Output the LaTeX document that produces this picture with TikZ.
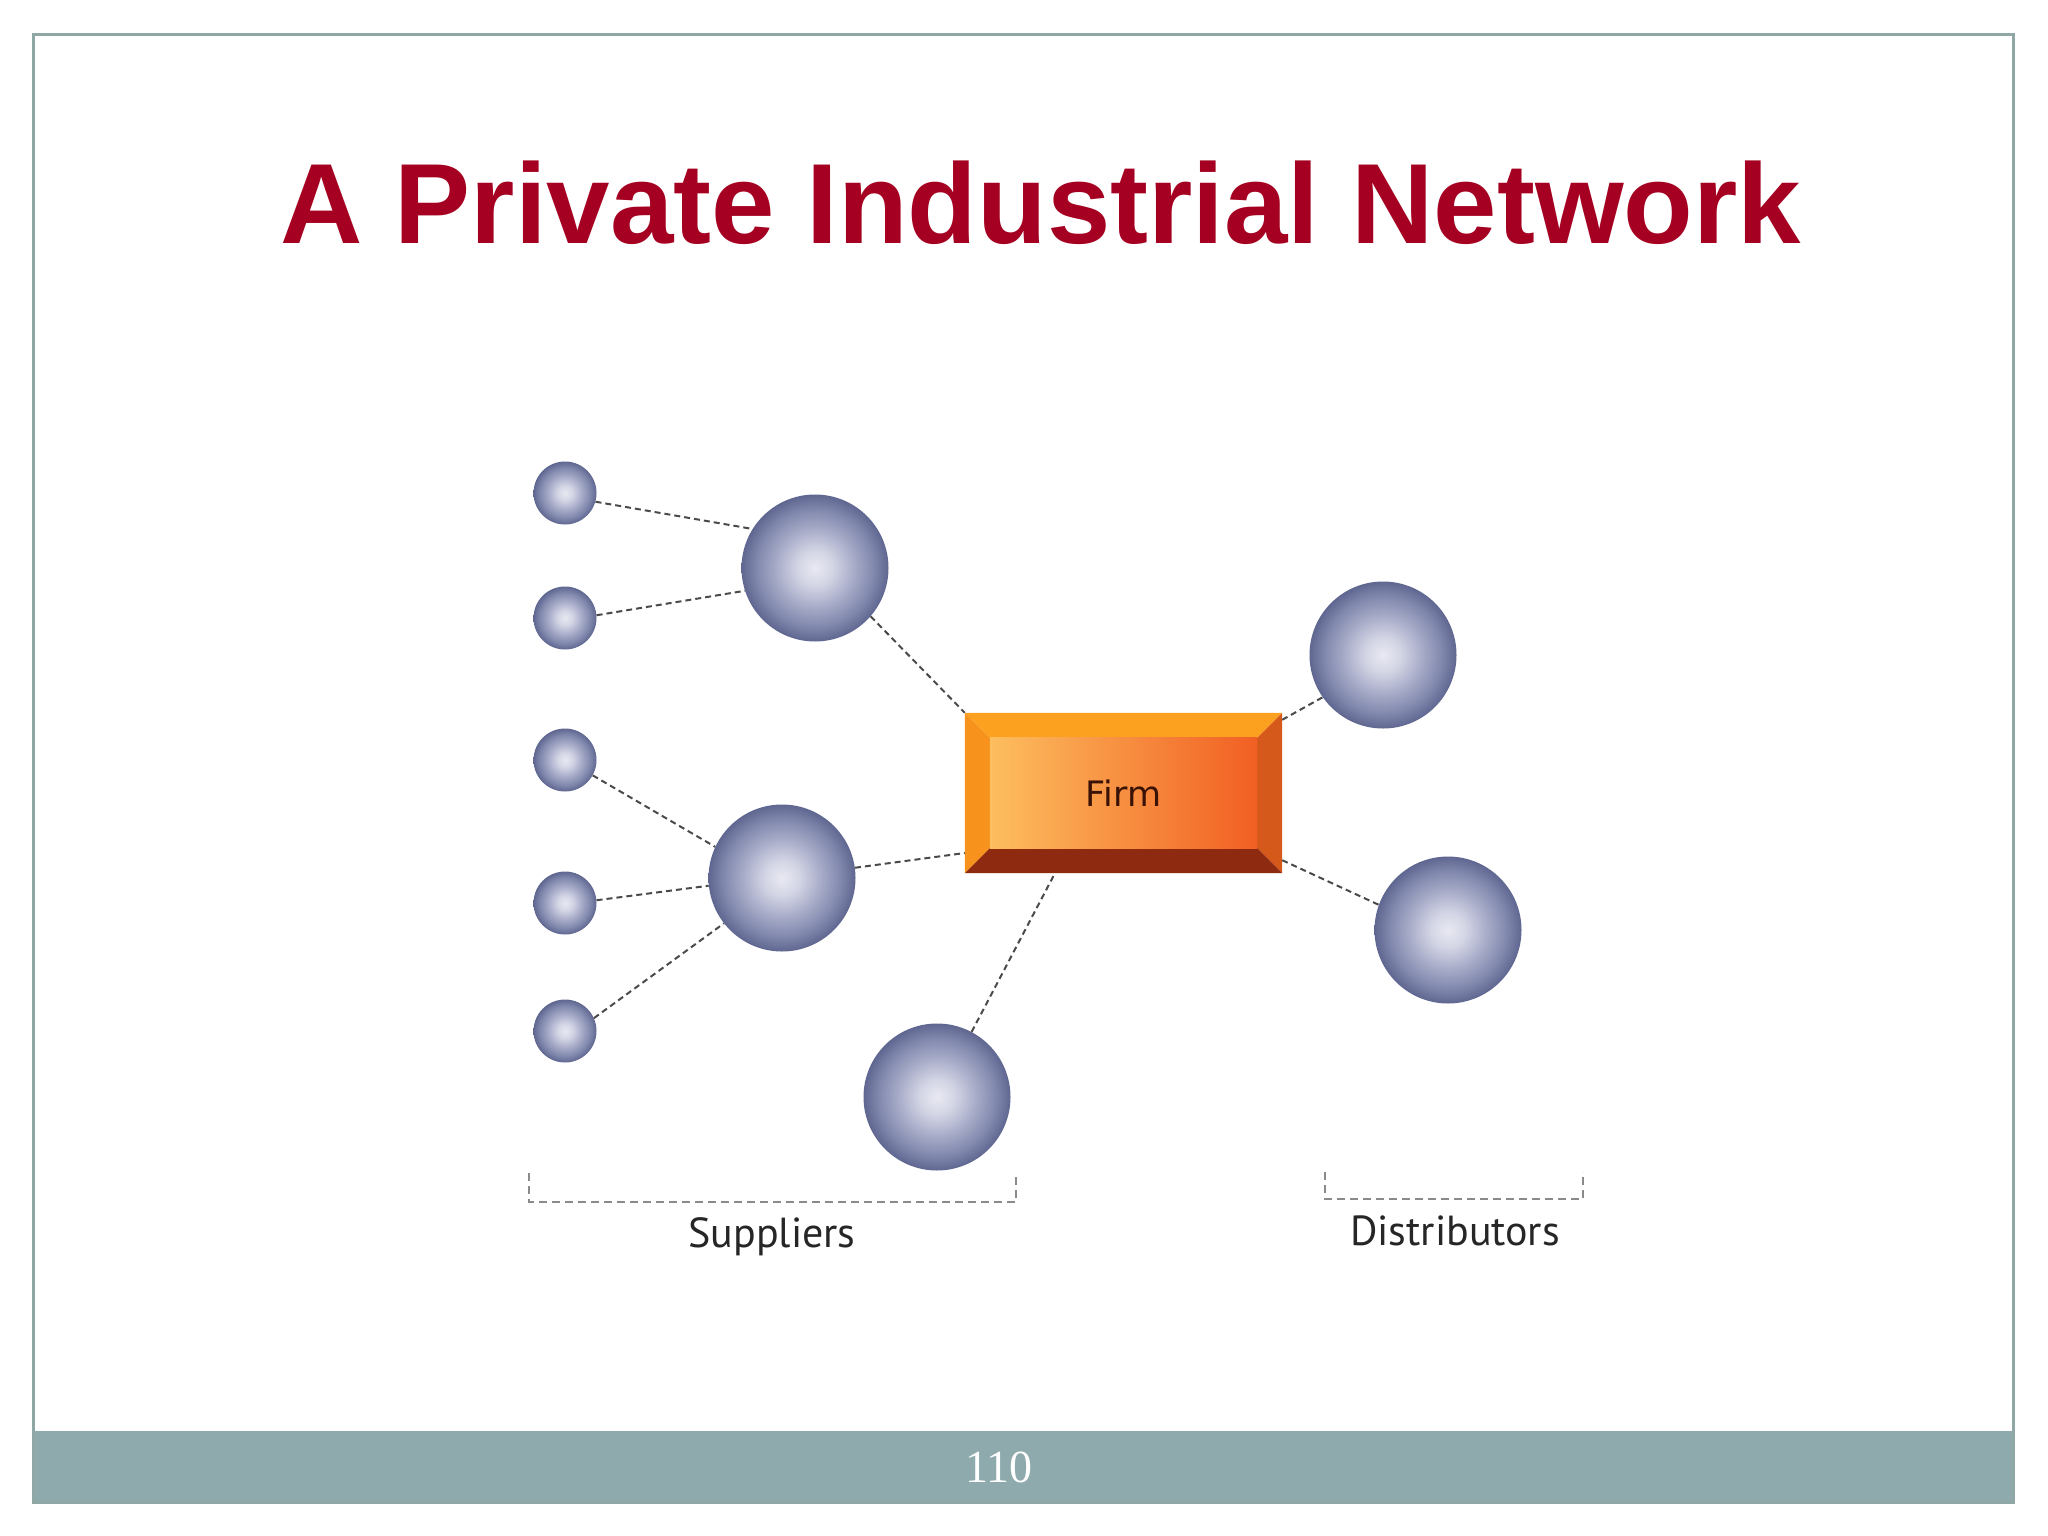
\documentclass[tikz,border=0pt]{standalone}
\usepackage{fontspec}
\usetikzlibrary{calc}
\newfontfamily\titlefont{Liberation Sans}
\newfontfamily\labfont{PT Sans}
\newfontfamily\firmfont{DejaVu Sans}
\newfontfamily\pagefont{Liberation Serif}
\definecolor{titleRed}{HTML}{A50021}
\definecolor{frameCol}{HTML}{8FA8A6}
\definecolor{footCol}{HTML}{8EAAAC}
\definecolor{lineGray}{HTML}{4A4A4A}
\definecolor{brackGray}{HTML}{8A8A8A}
\definecolor{sphA}{HTML}{E8E9F1}
\definecolor{sphB}{HTML}{D3D5E5}
\definecolor{sphC}{HTML}{A9ADC9}
\definecolor{sphD}{HTML}{8088AD}
\definecolor{sphE}{HTML}{5F6791}
\definecolor{bevTop}{HTML}{FBA11F}
\definecolor{bevLeft}{HTML}{F7931D}
\definecolor{bevRight}{HTML}{D5591A}
\definecolor{bevBottom}{HTML}{8E2A10}
\definecolor{faceL}{HTML}{FDBE5F}
\definecolor{faceM}{HTML}{F8953A}
\definecolor{faceR}{HTML}{F15F22}
\definecolor{firmText}{HTML}{3A1206}
\pgfdeclarelayer{bg}
\pgfsetlayers{bg,main}
\pgfdeclareradialshading{sphere}{\pgfpoint{0bp}{0bp}}{color(0bp)=(sphA); color(6bp)=(sphB); color(13bp)=(sphC); color(20bp)=(sphD); color(25bp)=(sphE); color(50bp)=(sphE)}
\tikzset{
  ballnode/.style={circle, inner sep=0pt, shade, shading=sphere},
  smallball/.style={ballnode, minimum size=63pt},
  bigball/.style={ballnode, minimum size=147pt},
  conn/.style={draw=lineGray, line width=2pt, dash pattern=on 6pt off 4pt},
  bracket/.style={draw=brackGray, line width=2pt, dash pattern=on 8pt off 5pt},
  labeltext/.style={font=\labfont\fontsize{42}{46}\selectfont, text=black!85, anchor=base}
}
\begin{document}
\begin{tikzpicture}[x=1pt,y=-1pt]
\useasboundingbox (0,0) rectangle (2048,1536);
\begin{pgfonlayer}{bg}
  \fill[white] (0,0) rectangle (2048,1536);
  \fill[footCol] (33,1431) rectangle (2013,1502);
  \draw[frameCol, line width=3pt] (33,35) rectangle (2013,1502);
\end{pgfonlayer}

% title
\node[anchor=base, text=titleRed, font=\titlefont\bfseries\fontsize{114}{120}\selectfont] (title) at (1041,243) {A Private Industrial Network};

% suppliers
\node[smallball] (s1) at (565,493) {};
\node[smallball] (s2) at (565,618) {};
\node[smallball] (s3) at (565,760) {};
\node[smallball] (s4) at (565,903) {};
\node[smallball] (s5) at (565,1031) {};
\node[bigball] (b1) at (815,568) {};
\node[bigball] (b2) at (782,878) {};
\node[bigball] (b3) at (937,1097) {};
% distributors
\node[bigball] (d1) at (1383,655) {};
\node[bigball] (d2) at (1448,930) {};

% firm
\node[minimum width=317pt, minimum height=160pt, inner sep=0pt, text=firmText, font=\firmfont\fontsize{35}{40}\selectfont] (firm) at (1123.5,793) {Firm};
\coordinate (fiNW) at ([xshift=25pt,yshift=-25pt]firm.north west);
\coordinate (fiNE) at ([xshift=-25pt,yshift=-25pt]firm.north east);
\coordinate (fiSW) at ([xshift=25pt,yshift=25pt]firm.south west);
\coordinate (fiSE) at ([xshift=-25pt,yshift=25pt]firm.south east);
\begin{pgfonlayer}{bg}
  \fill[bevTop] (firm.north west) -- (firm.north east) -- (fiNE) -- (fiNW) -- cycle;
  \fill[bevLeft] (firm.north west) -- (fiNW) -- (fiSW) -- (firm.south west) -- cycle;
  \fill[bevRight] (firm.north east) -- (firm.south east) -- (fiSE) -- (fiNE) -- cycle;
  \fill[bevBottom] (firm.south west) -- (fiSW) -- (fiSE) -- (firm.south east) -- cycle;
  \shade[left color=faceL, middle color=faceM, right color=faceR] (fiNW) rectangle (fiSE);
\end{pgfonlayer}

% connectors
\draw[conn] (s1.-16) -- (b1.148);
\draw[conn] (s2.5) -- (b1.-162);
\draw[conn] (b1.-41) -- (firm.north west);
\draw[conn] (s3.-29) -- (b2.155);
\draw[conn] (s4.5) -- (b2.186);
\draw[conn] (s5.24) -- (b2.-142);
\draw[conn] (b2.8) -- ([yshift=-60pt]firm.west);
\draw[conn] (b3.62) -- ($(firm.south west)!0.284!(firm.south east)$);
\draw[conn] ([yshift=-7pt]firm.north east) -- (d1.-145);
\draw[conn] ([yshift=13pt]firm.south east) -- (d2.160);

% brackets
\coordinate (sbA) at (529,1173);
\coordinate (sbB) at (1016,1173);
\coordinate (dbA) at (1325,1172);
\coordinate (dbB) at (1583,1172);
\draw[bracket] (sbA) -- ++(0,29) -| (sbB);
\draw[bracket] (dbA) -- ++(0,27) -| (dbB);
\node[labeltext] (suppl) at (772,1247) {Suppliers};
\node[labeltext] (distr) at (1455,1245) {Distributors};

% page number
\node[anchor=base, text=white, font=\pagefont\fontsize{46}{50}\selectfont] (pagenum) at (999,1482) {110};
\end{tikzpicture}
\end{document}
